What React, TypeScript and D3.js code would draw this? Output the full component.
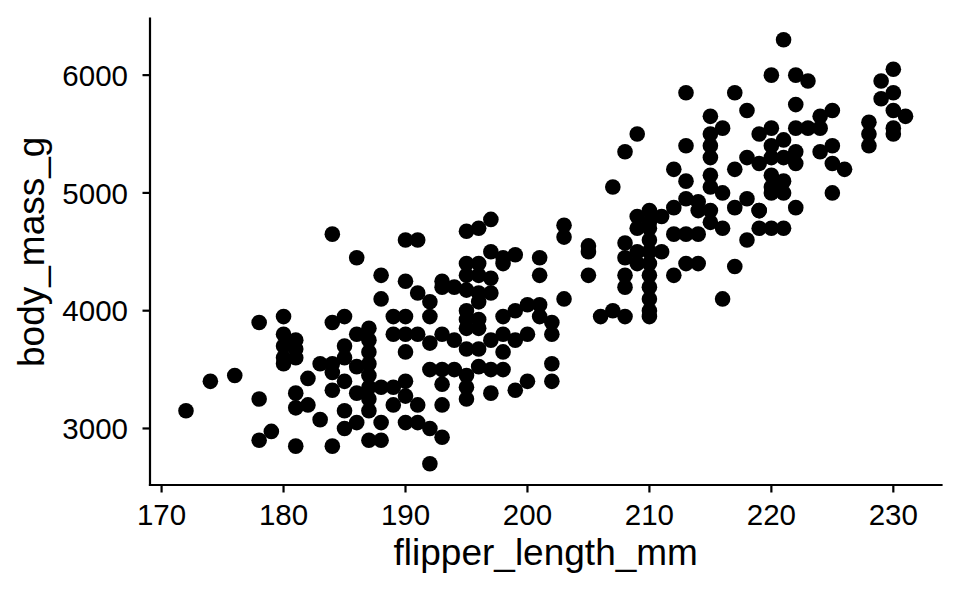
import React from "react";
import * as d3 from "d3";

// flipper_length_mm values
const flipper: number[] = [
  172,174,176,178,178,178,179,181,184,
  180,180,180,180,180,181,181,181,
  181,181,182,182,183,183,184,184,184,
  185,185,185,185,185,186,186,186,186,187,188,
  184,186,184,185,
  188,188,190,191,190,191,192,192,190,189,
  193,193,194,195,195,195,196,196,196,197,197,197,196,198,198,199,201,201,203,203,203,195,195,196,198,199,200,201,201,202,
  195,196,197,
  187,187,187,187,187,187,187,187,
  189,190,190,191,192,193,194,195,196,197,198,198,199,200,202,202,202,200,199,197,195,193,192,193,192,191,190,188,189,191,193,192,193,194,195,195,196,197,198,196,195,190,189,188,190,
  207,208,209,213,217,218,215,216,215,215,213,215,218,219,219,217,212,215,213,215,216,213,214,214,215,217,218,219,220,219,218,215,216,214,213,212,212,211,210,209,209,210,208,211,209,208,208,208,209,213,214,217,212,216,205,205,205,206,207,208,210,210,210,210,210,210,210,210,210,
  221,220,222,223,230,229,229,230,230,231,222,225,224,228,228,228,230,230,220,222,223,224,221,220,220,221,222,222,224,225,225,226,220,221,220,221,222,225,220,221,219
];

// body_mass_g values
const bodyMass: number[] = [
  3150,3400,3450,3250,3900,2900,2975,2850,2850,
  3950,3800,3700,3600,3550,3750,3675,3600,
  3300,3175,3425,3200,3075,3550,3550,3475,3325,
  3700,3600,3400,3150,3000,3800,3525,3300,3050,2900,2900,
  4650,4450,3900,3950,
  4300,4100,4600,4600,4250,4150,4075,3950,3950,3950,
  4250,4200,4200,4400,4300,4175,4400,4300,4150,4500,4275,4150,4075,4450,4400,4475,4450,4300,4725,4625,4100,4000,3925,3925,3950,4000,4050,4050,3950,3900,
  4675,4700,4775,
  3850,3750,3650,3550,3450,3350,3250,3150,
  3800,3800,3650,3800,3725,3800,3750,3850,3850,3750,3800,3650,3750,3800,3800,3550,3400,3400,3325,3300,3250,3200,3000,2925,2700,3050,3050,3050,3200,3200,3375,3500,3500,3500,3450,3350,3525,3500,3500,3675,3675,3400,3350,3350,3275,
  5050,5350,5500,5850,5850,5700,5650,5550,5500,5400,5400,5300,5300,5500,5250,5200,5200,5150,5100,5050,5000,4950,4925,4850,4850,4875,4950,4850,5050,4700,4600,4750,4700,4650,4650,4650,4875,4800,4850,4800,4700,4700,4575,4500,4500,4450,4300,4200,4400,4400,4400,4375,4300,4100,4550,4500,4300,3950,4000,3950,3950,4000,4100,4200,4300,4400,4500,4600,4750,
  6300,6000,6000,5950,6050,5950,5800,5850,5700,5650,5750,5700,5650,5600,5500,5400,5550,5500,5550,5550,5550,5550,5450,5400,5300,5300,5350,5250,5350,5400,5250,5200,5150,5100,5000,5000,4875,5000,4700,4700,4850
];

const xTicks = [170, 180, 190, 200, 210, 220, 230];
const yTicks = [3000, 4000, 5000, 6000];

const W = 960;
const H = 593;
const left = 150;
const right = 941.5;
const top = 18.6;
const bottom = 485;
const font = "'Liberation Sans', Arial, Helvetica, sans-serif";

export default function App() {
  const x = d3.scaleLinear().domain([169.05, 233.95]).range([left, right]);
  const y = d3.scaleLinear().domain([2520, 6480]).range([bottom, top]);
  const pts = flipper.map((f, i) => ({ f, m: bodyMass[i] }));
  return (
    <svg width={W} height={H} style={{ position: "absolute", left: 0, top: 0, background: "#fff" }}>
      <rect x={0} y={0} width={W} height={H} fill="#fff" />
      <g>
        {pts.map((p, i) => (
          <circle key={i} cx={x(p.f)} cy={y(p.m)} r={7.8} fill="#000" />
        ))}
      </g>
      <line x1={left} x2={left} y1={top} y2={bottom} stroke="#000" strokeWidth={2.2} strokeLinecap="square" />
      <line x1={left} x2={right} y1={bottom} y2={bottom} stroke="#000" strokeWidth={2.2} strokeLinecap="square" />
      {xTicks.map((t) => (
        <g key={t}>
          <line x1={x(t)} x2={x(t)} y1={bottom} y2={bottom + 7.5} stroke="#000" strokeWidth={2.2} />
          <text x={x(t)} y={525} textAnchor="middle" fontFamily={font} fontSize={29.5} fill="#000">{t}</text>
        </g>
      ))}
      {yTicks.map((t) => (
        <g key={t}>
          <line x1={left - 7.5} x2={left} y1={y(t)} y2={y(t)} stroke="#000" strokeWidth={2.2} />
          <text x={128} y={y(t)} dy="0.36em" textAnchor="end" fontFamily={font} fontSize={29.5} fill="#000">{t}</text>
        </g>
      ))}
      <text x={(left + right) / 2} y={565} textAnchor="middle" fontFamily={font} fontSize={37} fill="#000">flipper_length_mm</text>
      <text transform={`translate(44,${(top + bottom) / 2}) rotate(-90)`} textAnchor="middle" fontFamily={font} fontSize={37} fill="#000">body_mass_g</text>
    </svg>
  );
}
